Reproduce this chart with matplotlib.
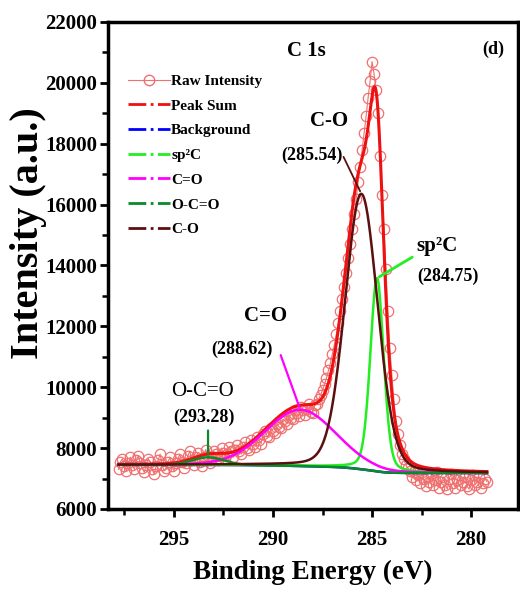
import numpy as np
import matplotlib
matplotlib.use("Agg")
import matplotlib.pyplot as plt
from matplotlib.lines import Line2D

plt.rcParams['font.family'] = ['Liberation Serif', 'DejaVu Serif']

# Raw C 1s spectrum, 0.1 eV steps from 297.8 eV down to 279.2 eV
raw_start = 297.8
raw_step = 0.1
raw_counts = [
    7300, 7550, 7650, 7400, 7250, 7500, 7700, 7450, 7300, 7600,
    7750, 7500, 7350, 7200, 7450, 7650, 7550, 7300, 7150, 7400,
    7600, 7800, 7450, 7250, 7350, 7550, 7700, 7400, 7250, 7500,
    7650, 7800, 7550, 7350, 7500, 7750, 7900, 7600, 7450, 7700,
    7850, 7550, 7400, 7700, 7950, 7750, 7500, 7650, 7900, 7800,
    7600, 7750, 8000, 7850, 7650, 7800, 8050, 7900, 7700, 7950,
    8100, 7900, 7800, 8050, 8200, 8000, 7950, 8250, 8150, 8050,
    8350, 8250, 8150, 8450, 8550, 8400, 8350, 8650, 8550, 8500,
    8800, 8700, 8650, 8950, 8900, 8800, 9100, 9000, 8950, 9250,
    9150, 9050, 9350, 9250, 9100, 9300, 9450, 9200, 9150, 9400,
    9450, 9600, 9750, 9900, 10100, 10300, 10550, 10800, 11100, 11400,
    11750, 12100, 12500, 12900, 13300, 13750, 14250, 14700, 15200, 15700,
    16200, 16750, 17250, 17800, 18350, 18900, 19500, 20050, 20700, 20300,
    19750, 19000, 17600, 16300, 15200, 13900, 12500, 11300, 10400, 9600,
    8900, 8450, 8100, 7800, 7650, 7450, 7350, 7250, 7050, 7200,
    6950, 7100, 6850, 7200, 7000, 6750, 7050, 6900, 7150, 6800,
    6950, 7200, 6700, 6900, 7050, 6800, 6650, 7000, 7150, 6850,
    6700, 6950, 7100, 6800, 6900, 7050, 6750, 6650, 6950, 7100,
    6800, 6900, 7050, 6700, 6850, 7000, 6900,
]

# Fitted components (pseudo-Voigt): centre (eV), height, FWHM (eV), Lorentz fraction
peak_names = ['sp²C', 'C=O', 'O-C=O', 'C-O']
peak_centers = [284.75, 288.62, 293.28, 285.54]
peak_heights = [6350, 1850, 250, 9050]
peak_fwhm = [0.8, 4.2, 1.9, 1.95]
peak_eta = [0.25, 0.1, 0.0, 0.15]
peak_colors = ['#22ee22', '#ff00ff', '#0a8a2a', '#5c0f0f']

# Shirley background end points
bg_high = 7450
bg_low = 7180

energy = raw_start - raw_step * np.arange(len(raw_counts))
fit_e = np.linspace(297.8, 279.2, 1200)


def pseudo_voigt(e, c, h, w, eta):
    x = (e - c) / (w / 2)
    g = np.exp(-np.log(2) * x ** 2)
    lor = 1 / (1 + x ** 2)
    return h * ((1 - eta) * g + eta * lor)


comps = [pseudo_voigt(fit_e, c, h, w, n)
         for c, h, w, n in zip(peak_centers, peak_heights, peak_fwhm, peak_eta)]
total = np.sum(comps, axis=0)
# cumulative area measured from the low binding energy side
area = np.cumsum(total[::-1])[::-1]
background = bg_low + (bg_high - bg_low) * area / area[0]
peak_sum = background + total

fig = plt.figure(figsize=(5.2, 5.99), dpi=100)
ax = fig.add_axes([0.2077, 0.1503, 0.7885, 0.813])

ax.plot(energy, raw_counts, color='#f07070', lw=0.8, marker='o', ms=7.5,
        mfc='none', mec='#f07070', mew=0.9, zorder=2)
ax.plot(fit_e, peak_sum, color='#ee1111', lw=2.2, zorder=3)
ax.plot(fit_e, background, color='#0000ff', lw=1.8, zorder=3)
for comp, col in zip(comps, peak_colors):
    ax.plot(fit_e, background + comp, color=col, lw=1.8, zorder=4)

ax.set_xlim(298.33, 277.63)
ax.set_ylim(6000, 22000)
ax.set_xticks([295, 290, 285, 280])
ax.set_xticks([297.5, 292.5, 287.5, 282.5], minor=True)
ax.set_yticks(np.arange(6000, 22001, 2000))
ax.set_yticks(np.arange(7000, 22000, 2000), minor=True)
ax.tick_params(which='major', direction='out', length=6, width=2, labelsize=15,
               top=False, right=False)
ax.tick_params(axis='y', which='major', pad=2)
ax.tick_params(axis='x', which='major', pad=9)
ax.tick_params(which='minor', direction='out', length=4, width=1.8,
               top=False, right=False)
for lab in ax.get_xticklabels() + ax.get_yticklabels():
    lab.set_fontweight('bold')
for sp in ax.spines.values():
    sp.set_linewidth(2.5)

ax.set_xlabel('Binding Energy (eV)', fontsize=19.5, fontweight='bold')
ax.set_ylabel('Intensity (a.u.)', fontsize=29, fontweight='bold')
ax.xaxis.set_label_coords(0.5, -0.105)
ax.yaxis.set_label_coords(-0.15, 0.567)

# peak labels with pointer lines to the component maxima
bg_at = [np.interp(c, fit_e[::-1], background[::-1]) for c in peak_centers]
tips = {n: (c, b + h) for n, c, h, b in
        zip(peak_names, peak_centers, peak_heights, bg_at)}

ax.text(288.3, 21050, 'C 1s', fontsize=15, fontweight='bold', ha='center', va='center')
ax.text(278.9, 21100, '(d)', fontsize=13, fontweight='bold', ha='center', va='center')

ax.text(287.15, 18750, 'C-O', fontsize=15, fontweight='bold', ha='center', va='center')
ax.text(288.05, 17620, '(285.54)', fontsize=13, fontweight='bold', ha='center', va='center')
ax.annotate('', xy=tips['C-O'], xytext=(286.5, 17650),
            arrowprops=dict(arrowstyle='-', color='#5c0f0f', lw=1.3))

ax.text(281.7, 14650, 'sp²C', fontsize=15, fontweight='bold', ha='center', va='center')
ax.text(281.15, 13650, '(284.75)', fontsize=13, fontweight='bold', ha='center', va='center')
ax.annotate('', xy=tips['sp²C'], xytext=(282.85, 14320),
            arrowprops=dict(arrowstyle='-', color='#22ee22', lw=2))

ax.text(290.4, 12340, 'C=O', fontsize=15, fontweight='bold', ha='center', va='center')
ax.text(291.58, 11250, '(288.62)', fontsize=13, fontweight='bold', ha='center', va='center')
ax.annotate('', xy=tips['C=O'], xytext=(289.66, 11140),
            arrowprops=dict(arrowstyle='-', color='#ff00ff', lw=1.6))

ax.text(293.54, 9860, 'O-C=O', fontsize=15, ha='center', va='center')
ax.text(293.5, 9000, '(293.28)', fontsize=13, fontweight='bold', ha='center', va='center')
ax.annotate('', xy=tips['O-C=O'], xytext=(293.28, 8670),
            arrowprops=dict(arrowstyle='-', color='#0a8a2a', lw=1.6))

handles = [
    Line2D([], [], color='#f07070', lw=0.8, marker='o', ms=7.5, mfc='none', mew=1),
    Line2D([], [], color='#ee1111', lw=2, ls='-.'),
    Line2D([], [], color='#0000ff', lw=2, ls='-.'),
]
handles += [Line2D([], [], color=col, lw=2, ls='-.') for col in peak_colors]
legend_labels = ['Raw Intensity', 'Peak Sum', 'Background'] + peak_names
ax.legend(handles, legend_labels, loc='upper left', bbox_to_anchor=(0.035, 0.905),
          frameon=False, handlelength=2.7, handletextpad=0.1,
          labelspacing=0.72, numpoints=1, borderaxespad=0,
          prop={'weight': 'bold', 'size': 11})

fig.savefig('out.png', dpi=100)
